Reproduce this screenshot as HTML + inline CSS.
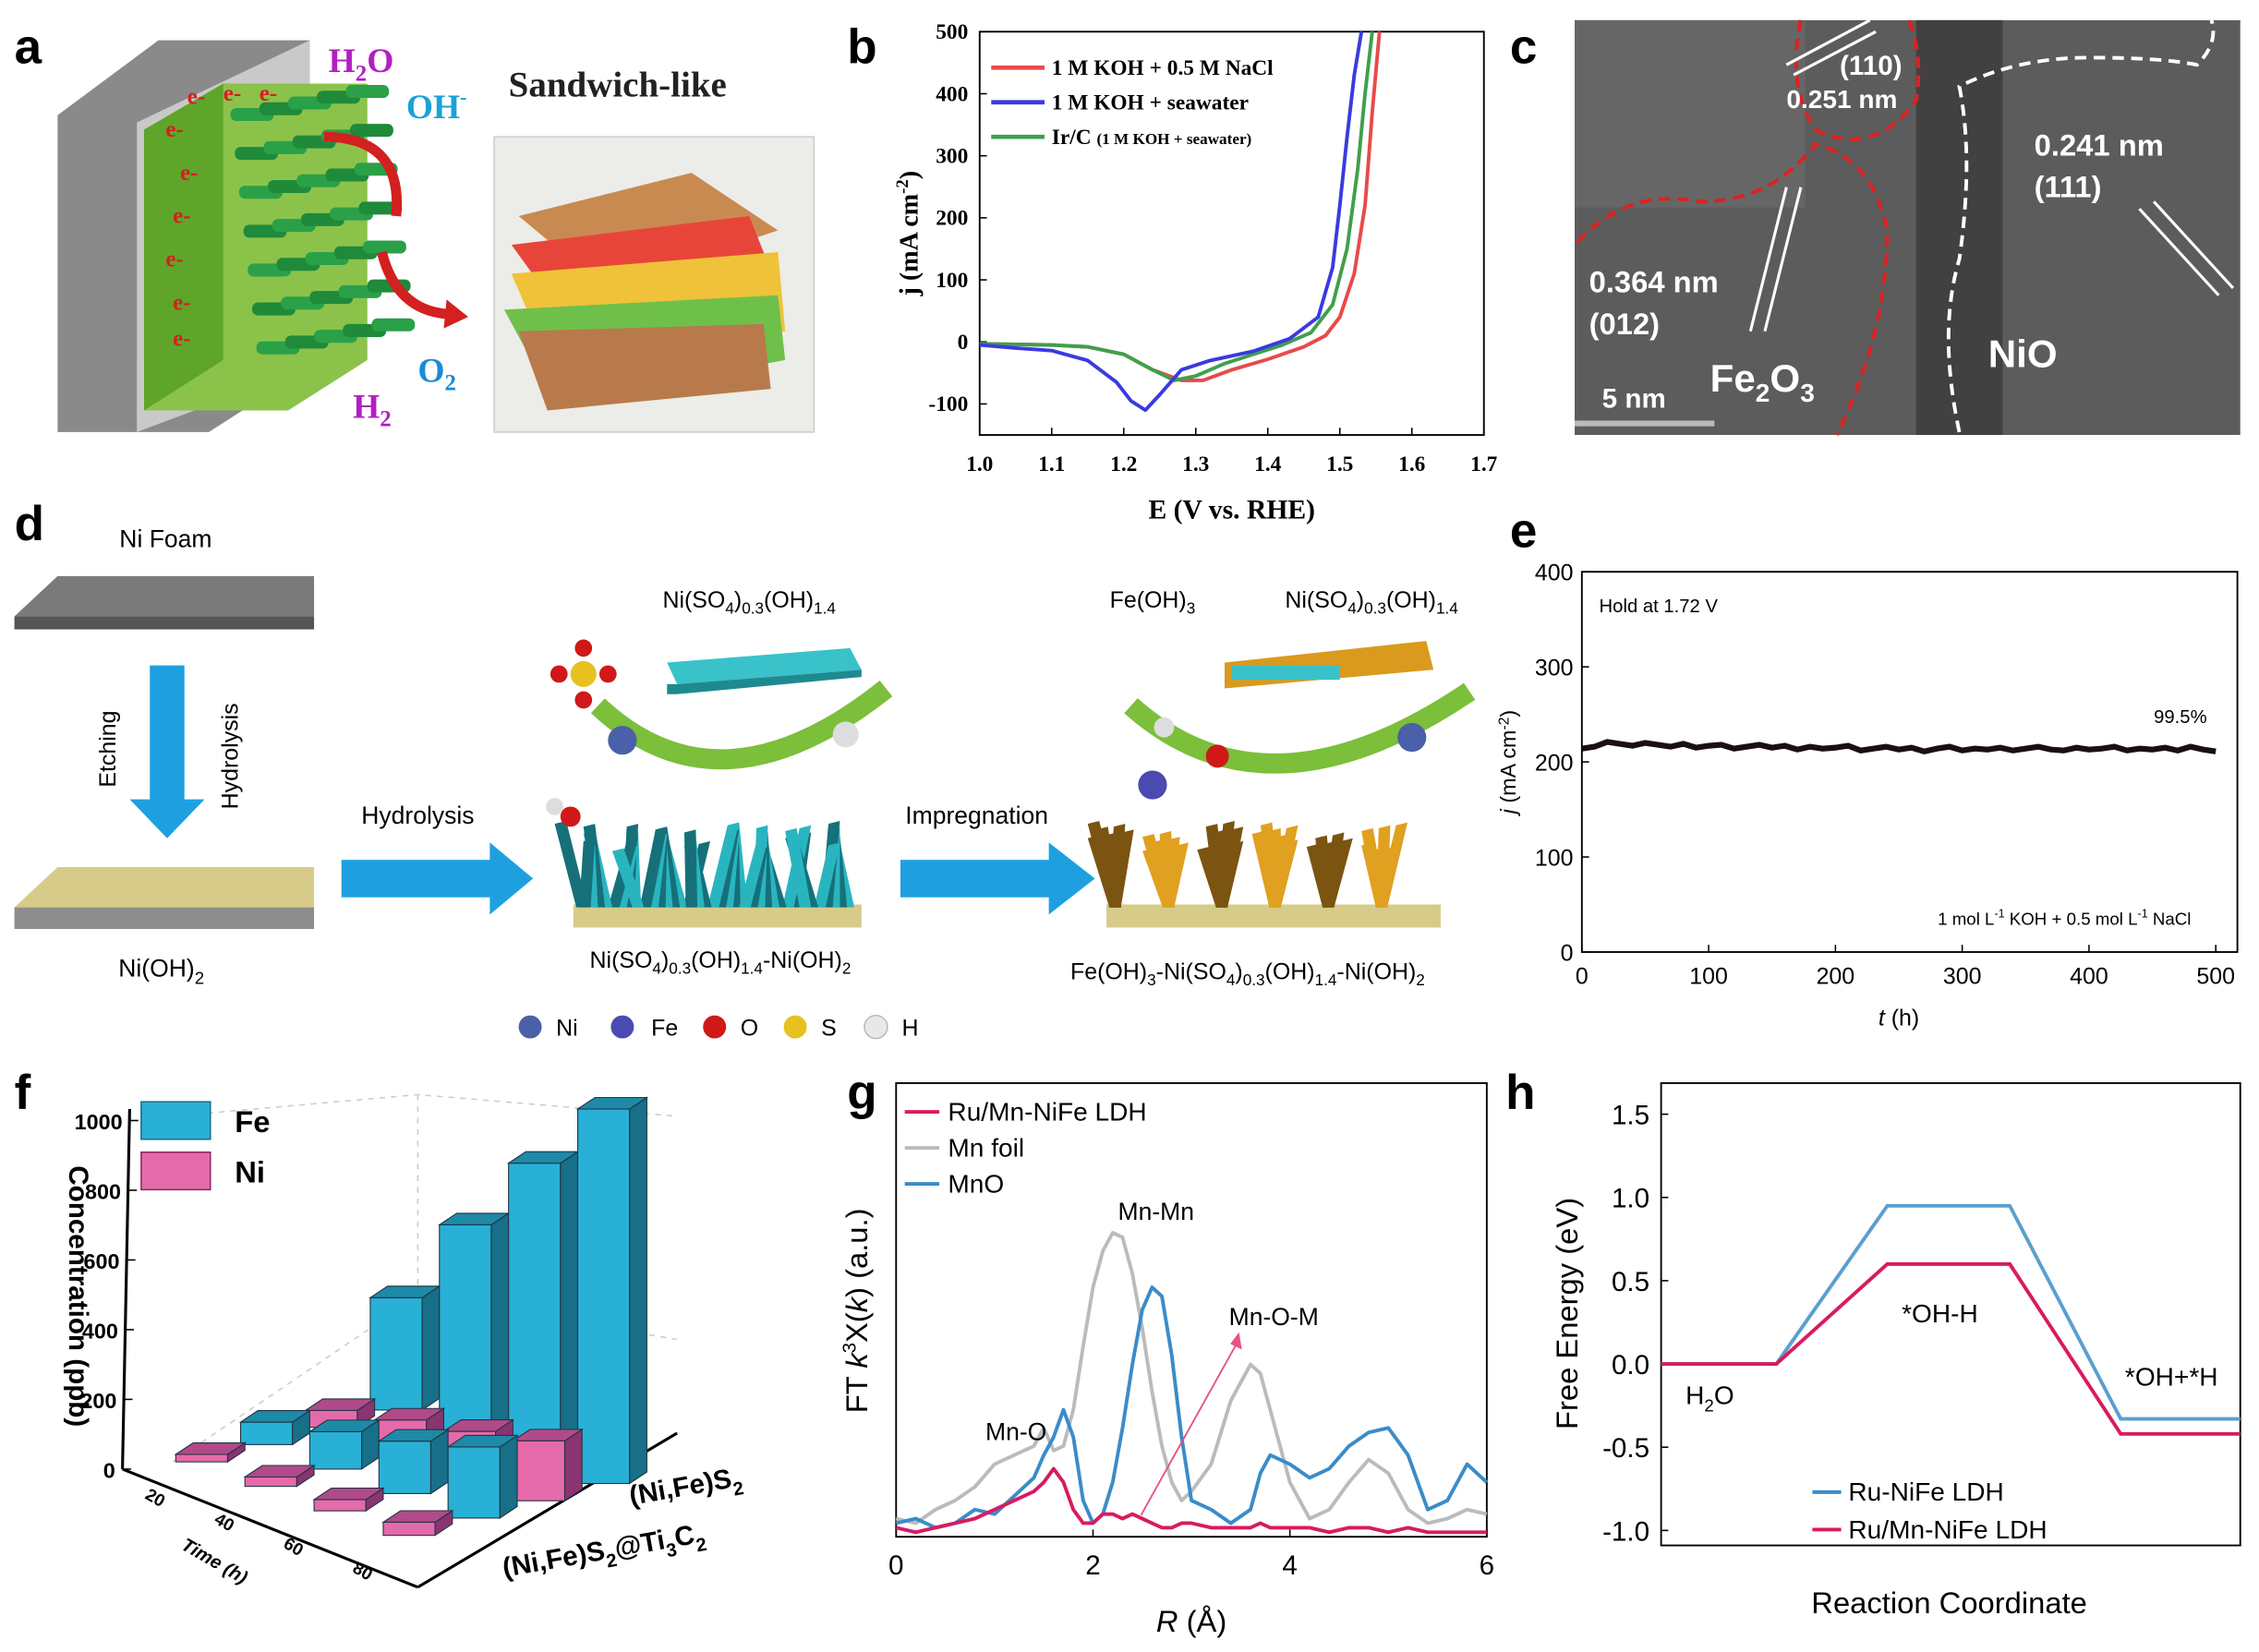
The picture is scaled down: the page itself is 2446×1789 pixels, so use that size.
<!DOCTYPE html>
<html><head><meta charset="utf-8"><style>
html,body{margin:0;padding:0;background:#fff}
svg{display:block}
text{font-family:"Liberation Sans",sans-serif}
.serif{font-family:"Liberation Serif",serif;font-weight:bold}
</style></head><body>
<svg id="fig" width="2446" height="1789" viewBox="0 0 1568 1147" preserveAspectRatio="none" xmlns="http://www.w3.org/2000/svg">
<rect width="1568" height="1147" fill="#fff"/>

<!-- Panel a -->
<g>
<text x="10" y="44" font-size="34" font-weight="bold">a</text>
<polygon points="40,80 110,28 215,28 215,255 145,300 40,300" fill="#8a8a8a"/>
<polygon points="95,85 215,28 215,255 95,300" fill="#d8d8d8" opacity="0.8"/>
<polygon points="100,90 155,58 255,58 255,250 200,285 100,285" fill="#8bc34a"/>
<polygon points="100,90 155,58 155,250 100,285" fill="#5ea52a"/>
<g id="rods"></g>
<path d="M225,95 Q280,95 275,150" stroke="#d32020" stroke-width="7" fill="none"/>
<path d="M265,175 Q275,215 310,218" stroke="#d32020" stroke-width="7" fill="none"/>
<polygon points="310,208 325,220 308,228" fill="#d32020"/>
<text x="228" y="50" font-size="24" class="serif" fill="#b21fc2">H<tspan font-size="16" dy="6">2</tspan><tspan dy="-6">O</tspan></text>
<text x="282" y="82" font-size="24" class="serif" fill="#1aa2d6">OH<tspan font-size="14" dy="-10">-</tspan></text>
<text x="290" y="265" font-size="24" class="serif" fill="#1a8ad6">O<tspan font-size="16" dy="6">2</tspan></text>
<text x="245" y="290" font-size="24" class="serif" fill="#b21fc2">H<tspan font-size="16" dy="6">2</tspan></text>
<text x="353" y="67" font-size="25" class="serif" fill="#222">Sandwich-like</text>
<rect x="343" y="95" width="222" height="205" fill="#ecece8" stroke="#ccc"/>
<polygon points="360,150 480,120 540,160 420,200" fill="#c98a52"/>
<polygon points="355,170 520,150 540,200 395,225" fill="#e8453a"/>
<polygon points="355,190 540,175 545,230 385,260" fill="#f0c23a"/>
<polygon points="350,215 540,205 545,250 385,280" fill="#6fc04a"/>
<polygon points="360,230 530,225 535,270 380,285" fill="#b87a4a"/>
</g>

<!-- Panel b -->
<g>
<text x="588" y="44" font-size="34" font-weight="bold">b</text>
<rect x="680" y="22" width="350" height="280" fill="none" stroke="#000" stroke-width="1.2"/>
<g id="b-axes"></g><g id="b-series"></g>
<line x1="688" y1="47" x2="725" y2="47" stroke="#e84a4a" stroke-width="3"/>
<text x="730" y="52" font-size="15" class="serif">1 M KOH + 0.5 M NaCl</text>
<line x1="688" y1="71" x2="725" y2="71" stroke="#3a3ae0" stroke-width="3"/>
<text x="730" y="76" font-size="15" class="serif">1 M KOH + seawater</text>
<line x1="688" y1="95" x2="725" y2="95" stroke="#3fa04a" stroke-width="3"/>
<text x="730" y="100" font-size="15" class="serif">Ir/C <tspan font-size="11">(1 M KOH + seawater)</tspan></text>
<text x="0" y="0" transform="translate(637,162) rotate(-90)" text-anchor="middle" font-size="18" class="serif">j (mA cm<tspan font-size="12" dy="-7">-2</tspan><tspan dy="7">)</tspan></text>
<text x="855" y="360" text-anchor="middle" font-size="19" class="serif">E (V vs. RHE)</text>
</g>

<!-- Panel c -->
<g>
<text x="1048" y="44" font-size="34" font-weight="bold">c</text>
<rect x="1093" y="14" width="462" height="288" fill="#5c5c5c"/>
<rect x="1330" y="14" width="60" height="288" fill="#2e2e2e" opacity="0.6"/>
<rect x="1093" y="14" width="160" height="130" fill="#707070" opacity="0.5"/>
<path d="M1095,168 Q1130,130 1180,140 Q1230,140 1260,100 Q1300,110 1310,160 Q1310,230 1275,302" stroke="#e02020" stroke-width="2.5" stroke-dasharray="8,5" fill="none"/>
<path d="M1250,14 Q1240,60 1260,90 Q1300,110 1330,70 Q1335,40 1325,14" stroke="#e02020" stroke-width="2.5" stroke-dasharray="8,5" fill="none"/>
<path d="M1360,300 Q1345,230 1360,180 Q1370,110 1360,60 Q1400,40 1450,40 Q1500,40 1525,45 Q1540,30 1535,14" stroke="#fff" stroke-width="2.5" stroke-dasharray="8,5" fill="none"/>
<line x1="1240" y1="45" x2="1298" y2="14" stroke="#fff" stroke-width="2"/><line x1="1245" y1="52" x2="1302" y2="22" stroke="#fff" stroke-width="2"/>
<line x1="1215" y1="230" x2="1240" y2="130" stroke="#fff" stroke-width="2"/><line x1="1225" y1="230" x2="1250" y2="130" stroke="#fff" stroke-width="2"/>
<line x1="1485" y1="145" x2="1540" y2="205" stroke="#fff" stroke-width="2"/><line x1="1495" y1="140" x2="1550" y2="200" stroke="#fff" stroke-width="2"/>
<g fill="#fff" font-weight="bold">
<text x="1277" y="52" font-size="19">(110)</text><text x="1240" y="75" font-size="18">0.251 nm</text>
<text x="1412" y="108" font-size="21">0.241 nm</text><text x="1412" y="137" font-size="21">(111)</text>
<text x="1103" y="203" font-size="21">0.364 nm</text><text x="1103" y="232" font-size="21">(012)</text>
<text x="1187" y="272" font-size="27">Fe<tspan font-size="18" dy="7">2</tspan><tspan dy="-7">O</tspan><tspan font-size="18" dy="7">3</tspan></text>
<text x="1380" y="255" font-size="27">NiO</text>
<text x="1112" y="283" font-size="19">5 nm</text>
</g>
<line x1="1093" y1="294" x2="1190" y2="294" stroke="#bbb" stroke-width="4"/>
</g>

<!-- Panel d -->
<g>
<text x="10" y="375" font-size="34" font-weight="bold">d</text>
<text x="115" y="380" text-anchor="middle" font-size="17">Ni Foam</text>
<polygon points="10,428 40,400 218,400 218,428" fill="#7a7a7a"/><rect x="10" y="428" width="208" height="9" fill="#555"/>
<rect x="104" y="462" width="24" height="95" fill="#1ea0e0"/><polygon points="90,555 142,555 116,582" fill="#1ea0e0"/>
<text transform="translate(80,520) rotate(-90)" text-anchor="middle" font-size="16">Etching</text>
<text transform="translate(165,525) rotate(-90)" text-anchor="middle" font-size="16">Hydrolysis</text>
<polygon points="10,630 40,602 218,602 218,630" fill="#d7cb8a"/><rect x="10" y="630" width="208" height="15" fill="#8d8d8d"/>
<text x="112" y="678" text-anchor="middle" font-size="17">Ni(OH)<tspan font-size="12" dy="5">2</tspan></text>
<rect x="237" y="597" width="105" height="26" fill="#1ea0e0"/><polygon points="340,585 370,610 340,635" fill="#1ea0e0"/>
<text x="290" y="572" text-anchor="middle" font-size="17">Hydrolysis</text>
<rect x="625" y="597" width="105" height="26" fill="#1ea0e0"/><polygon points="728,585 760,610 728,635" fill="#1ea0e0"/>
<text x="678" y="572" text-anchor="middle" font-size="17">Impregnation</text>
<rect x="398" y="628" width="200" height="16" fill="#d7cb8a"/>
<g id="wiresA"></g>
<rect x="768" y="628" width="232" height="16" fill="#d7cb8a"/>
<g id="wiresB"></g>
<path d="M415,490 Q500,570 615,478" stroke="#7bbf3a" stroke-width="14" fill="none"/>
<path d="M785,490 Q880,575 1020,480" stroke="#7bbf3a" stroke-width="14" fill="none"/>
<polygon points="463,460 590,450 598,465 470,475" fill="#39c2c9"/><polygon points="463,475 470,475 598,465 598,470 470,482 463,482" fill="#1e8a90"/>
<polygon points="850,460 990,445 995,465 850,478" fill="#d99a1e"/><rect x="855" y="462" width="75" height="10" fill="#39c2c9"/>
<text x="520" y="422" text-anchor="middle" font-size="16">Ni(SO<tspan font-size="11" dy="4">4</tspan><tspan dy="-4">)</tspan><tspan font-size="11" dy="4">0.3</tspan><tspan dy="-4">(OH)</tspan><tspan font-size="11" dy="4">1.4</tspan></text>
<text x="800" y="422" text-anchor="middle" font-size="16">Fe(OH)<tspan font-size="11" dy="4">3</tspan></text>
<text x="952" y="422" text-anchor="middle" font-size="16">Ni(SO<tspan font-size="11" dy="4">4</tspan><tspan dy="-4">)</tspan><tspan font-size="11" dy="4">0.3</tspan><tspan dy="-4">(OH)</tspan><tspan font-size="11" dy="4">1.4</tspan></text>
<text x="500" y="672" text-anchor="middle" font-size="16">Ni(SO<tspan font-size="11" dy="4">4</tspan><tspan dy="-4">)</tspan><tspan font-size="11" dy="4">0.3</tspan><tspan dy="-4">(OH)</tspan><tspan font-size="11" dy="4">1.4</tspan><tspan dy="-4">-Ni(OH)</tspan><tspan font-size="11" dy="4">2</tspan></text>
<text x="866" y="680" text-anchor="middle" font-size="16">Fe(OH)<tspan font-size="11" dy="4">3</tspan><tspan dy="-4">-Ni(SO</tspan><tspan font-size="11" dy="4">4</tspan><tspan dy="-4">)</tspan><tspan font-size="11" dy="4">0.3</tspan><tspan dy="-4">(OH)</tspan><tspan font-size="11" dy="4">1.4</tspan><tspan dy="-4">-Ni(OH)</tspan><tspan font-size="11" dy="4">2</tspan></text>
<circle cx="405" cy="468" r="9" fill="#e8c020"/><circle cx="388" cy="468" r="6" fill="#d01818"/><circle cx="422" cy="468" r="6" fill="#d01818"/><circle cx="405" cy="450" r="6" fill="#d01818"/><circle cx="405" cy="486" r="6" fill="#d01818"/>
<circle cx="432" cy="514" r="10" fill="#4a60a8"/><circle cx="587" cy="510" r="9" fill="#ddd"/><circle cx="396" cy="567" r="7" fill="#d01818"/><circle cx="385" cy="560" r="6" fill="#ddd"/>
<circle cx="980" cy="512" r="10" fill="#4a60a8"/><circle cx="800" cy="545" r="10" fill="#4a4ab0"/><circle cx="845" cy="525" r="8" fill="#d01818"/><circle cx="808" cy="505" r="7" fill="#ddd"/>
<g font-size="16">
<circle cx="368" cy="713" r="8" fill="#4a60a8"/><text x="386" y="719">Ni</text>
<circle cx="432" cy="713" r="8" fill="#4a4ab0"/><text x="452" y="719">Fe</text>
<circle cx="496" cy="713" r="8" fill="#d01818"/><text x="514" y="719">O</text>
<circle cx="552" cy="713" r="8" fill="#e8c020"/><text x="570" y="719">S</text>
<circle cx="608" cy="713" r="8" fill="#e8e8e8" stroke="#bbb"/><text x="626" y="719">H</text>
</g>
</g>

<!-- Panel e -->
<g>
<text x="1048" y="380" font-size="34" font-weight="bold">e</text>
<rect x="1098" y="397" width="455" height="264" fill="none" stroke="#000" stroke-width="1.2"/>
<g id="e-axes"></g><g id="e-series"></g>
<text x="1110" y="425" font-size="13">Hold at 1.72 V</text>
<text x="1495" y="502" font-size="13">99.5%</text>
<text x="1345" y="642" font-size="12">1 mol L<tspan font-size="8" dy="-5">-1</tspan><tspan dy="5"> KOH + 0.5 mol L</tspan><tspan font-size="8" dy="-5">-1</tspan><tspan dy="5"> NaCl</tspan></text>
<text transform="translate(1052,529) rotate(-90)" text-anchor="middle" font-size="15"><tspan font-style="italic">j</tspan> (mA cm<tspan font-size="10" dy="-5">-2</tspan><tspan dy="5">)</tspan></text>
<text x="1318" y="712" text-anchor="middle" font-size="16"><tspan font-style="italic">t</tspan> (h)</text>
</g>

<!-- Panel f -->
<g>
<text x="10" y="770" font-size="34" font-weight="bold">f</text>
<g stroke="#ccc" stroke-dasharray="4,4" fill="none">
<path d="M120,775 L290,760 L470,775"/><path d="M120,1015 L290,900 L470,930"/>
<line x1="290" y1="760" x2="290" y2="900"/>
</g>
<line x1="90" y1="770" x2="85" y2="1020" stroke="#000" stroke-width="2"/>
<line x1="85" y1="1020" x2="290" y2="1102" stroke="#000" stroke-width="2"/>
<line x1="290" y1="1102" x2="470" y2="995" stroke="#000" stroke-width="2"/>
<g id="f-axes"></g><g id="f-bars"></g>
<rect x="98" y="765" width="48" height="26" fill="#29b0d6" stroke="#1a6d85"/><text x="163" y="786" font-size="21" font-weight="bold">Fe</text>
<rect x="98" y="800" width="48" height="26" fill="#e56aaa" stroke="#8a2a60"/><text x="163" y="821" font-size="21" font-weight="bold">Ni</text>
<text transform="translate(48,900) rotate(90)" text-anchor="middle" font-size="19" font-weight="bold">Concentration (ppb)</text>
<text transform="translate(125,1075) rotate(30)" font-size="13" font-style="italic" font-weight="bold">Time (h)</text>
<text transform="translate(438,1045) rotate(-10)" font-size="19" font-weight="bold">(Ni,Fe)S<tspan font-size="13" dy="6">2</tspan></text>
<text transform="translate(350,1095) rotate(-10)" font-size="19" font-weight="bold">(Ni,Fe)S<tspan font-size="13" dy="6">2</tspan><tspan dy="-6">@Ti</tspan><tspan font-size="13" dy="6">3</tspan><tspan dy="-6">C</tspan><tspan font-size="13" dy="6">2</tspan></text>
</g>

<!-- Panel g -->
<g>
<text x="588" y="770" font-size="34" font-weight="bold">g</text>
<rect x="622" y="752" width="410" height="315" fill="none" stroke="#000" stroke-width="1.2"/>
<g id="g-axes"></g><g id="g-series"></g>
<line x1="628" y1="772" x2="652" y2="772" stroke="#d81b60" stroke-width="2.5"/><text x="658" y="778" font-size="18">Ru/Mn-NiFe LDH</text>
<line x1="628" y1="797" x2="652" y2="797" stroke="#bbb" stroke-width="2.5"/><text x="658" y="803" font-size="18">Mn foil</text>
<line x1="628" y1="822" x2="652" y2="822" stroke="#3a8cc8" stroke-width="2.5"/><text x="658" y="828" font-size="18">MnO</text>
<text x="776" y="847" font-size="17">Mn-Mn</text>
<text x="853" y="920" font-size="17">Mn-O-M</text>
<text x="684" y="1000" font-size="17">Mn-O</text>
<line x1="792" y1="1052" x2="860" y2="930" stroke="#e8508a" stroke-width="1.2"/><polygon points="860,925 862,937 854,933" fill="#e8508a"/>
<text transform="translate(602,910) rotate(-90)" text-anchor="middle" font-size="21">FT <tspan font-style="italic">k</tspan><tspan font-size="13" dy="-8">3</tspan><tspan dy="8">X(</tspan><tspan font-style="italic">k</tspan>) (a.u.)</text>
<text x="827" y="1133" text-anchor="middle" font-size="21"><tspan font-style="italic">R</tspan> (Å)</text>
</g>

<!-- Panel h -->
<g>
<text x="1045" y="770" font-size="34" font-weight="bold">h</text>
<rect x="1153" y="752" width="402" height="321" fill="none" stroke="#000" stroke-width="1.2"/>
<g id="h-axes"></g><g id="h-series"></g>
<text x="1320" y="918" font-size="18">*OH-H</text>
<text x="1170" y="975" font-size="18">H<tspan font-size="12" dy="5">2</tspan><tspan dy="-5">O</tspan></text>
<text x="1475" y="962" font-size="18">*OH+*H</text>
<line x1="1258" y1="1036" x2="1278" y2="1036" stroke="#3a8cc8" stroke-width="2.5"/><text x="1283" y="1042" font-size="18">Ru-NiFe LDH</text>
<line x1="1258" y1="1062" x2="1278" y2="1062" stroke="#d81b60" stroke-width="2.5"/><text x="1283" y="1068" font-size="18">Ru/Mn-NiFe LDH</text>
<text transform="translate(1095,912) rotate(-90)" text-anchor="middle" font-size="21">Free Energy (eV)</text>
<text x="1353" y="1120" text-anchor="middle" font-size="21">Reaction Coordinate</text>
</g>
</svg>
<script>
// ---- Panel b data ----
const bTicksX=[1.0,1.1,1.2,1.3,1.4,1.5,1.6,1.7];
const bTicksY=[-100,0,100,200,300,400,500];
const bRedE=[1.0,1.05,1.1,1.15,1.2,1.24,1.28,1.31,1.35,1.4,1.45,1.48,1.5,1.52,1.535,1.545,1.555];
const bRedJ=[-3,-4,-5,-8,-20,-45,-62,-62,-45,-28,-8,10,40,110,220,370,500];
const bBlueE=[1.0,1.05,1.1,1.15,1.19,1.21,1.23,1.25,1.28,1.32,1.38,1.43,1.47,1.49,1.5,1.51,1.52,1.53];
const bBlueJ=[-5,-10,-14,-30,-65,-95,-110,-85,-45,-30,-15,5,40,120,220,330,430,500];
const bGreenE=[1.0,1.05,1.1,1.15,1.2,1.24,1.27,1.3,1.34,1.38,1.42,1.46,1.49,1.51,1.525,1.535,1.545];
const bGreenJ=[-3,-4,-5,-8,-20,-45,-62,-55,-35,-20,-5,15,60,150,280,400,500];
// ---- Panel e data ----
const eTicksX=[0,100,200,300,400,500];
const eTicksY=[0,100,200,300,400];
const eT=[0,10,20,30,40,50,60,70,80,90,100,110,120,130,140,150,160,170,180,190,200,210,220,230,240,250,260,270,280,290,300,310,320,330,340,350,360,370,380,390,400,410,420,430,440,450,460,470,480,490,500];
const eJ=[214,216,221,219,217,220,218,216,219,215,217,218,214,216,218,215,217,213,216,214,215,217,212,214,216,213,215,211,214,216,212,214,213,215,212,214,216,213,212,215,213,214,216,212,214,213,215,212,216,213,211];
// ---- Panel f data ----
const fTimes=["20","40","60","80"];
const fTicksZ=[0,200,400,600,800,1000];
const fNiTi=[20,25,30,35];
const fFeTi=[60,100,140,190];
const fNiNF=[45,85,120,160];
const fFeNF=[300,560,790,1000];
// ---- Panel g data ----
const gTicksX=[0,2,4,6];
const gR=[0,0.2,0.4,0.6,0.8,1.0,1.2,1.4,1.5,1.6,1.7,1.8,1.9,2.0,2.1,2.2,2.3,2.4,2.5,2.6,2.7,2.8,2.9,3.0,3.2,3.4,3.6,3.7,3.8,4.0,4.2,4.4,4.6,4.8,5.0,5.2,5.4,5.6,5.8,6.0];
const gRed=[0.2,0.1,0.2,0.3,0.4,0.6,0.8,1.0,1.2,1.5,1.2,0.6,0.3,0.3,0.5,0.5,0.4,0.5,0.4,0.3,0.2,0.2,0.3,0.3,0.2,0.2,0.2,0.3,0.2,0.2,0.2,0.1,0.2,0.2,0.1,0.2,0.1,0.1,0.1,0.1];
const gGray=[0.4,0.3,0.6,0.8,1.1,1.6,1.8,2.0,2.4,1.9,2.0,2.8,4.2,5.5,6.3,6.7,6.6,5.8,4.6,3.2,2.0,1.2,0.8,1.0,1.6,3.0,3.8,3.6,2.8,1.2,0.4,0.6,1.2,1.7,1.4,0.6,0.3,0.4,0.6,0.5];
const gBlue=[0.3,0.4,0.2,0.3,0.6,0.5,0.9,1.3,1.8,2.2,2.8,2.2,0.8,0.3,0.5,1.2,2.4,3.8,5.0,5.5,5.3,4.0,2.2,0.8,0.6,0.3,0.6,1.4,1.8,1.6,1.3,1.5,2.0,2.3,2.4,1.8,0.6,0.8,1.6,1.2];
// ---- Panel h data ----
const hTicksY=[-1.0,-0.5,0.0,0.5,1.0,1.5];
const hStates=[0,1,2];
const hBlue=[0,0.95,-0.33];
const hRed=[0,0.6,-0.42];

const NS="http://www.w3.org/2000/svg";
function mk(tag,attrs,parent,txt){const e=document.createElementNS(NS,tag);for(const k in attrs)e.setAttribute(k,attrs[k]);if(txt!==undefined)e.textContent=txt;parent.appendChild(e);return e;}
function $(id){return document.getElementById(id);}

// rods in panel a
(function(){const g=$('rods');for(let r=0;r<7;r++)for(let c=0;c<5;c++){const x=160+c*20+r*3,y=75+r*27-c*4;
const rod=mk('rect',{x:x,y:y,width:30,height:9,rx:4,fill:(c+r)%2?'#1f8a3a':'#2aa048'},g);

}
const es=[[115,95],[125,125],[120,155],[115,185],[120,215],[120,240],[130,72],[155,70],[180,70]];
es.forEach(p=>{const t=mk('text',{x:p[0],y:p[1],'font-size':16,fill:'#d32020',class:'serif'},g,'e-');

});})();

// wires in panel d (decorative)
(function(){function wires(g,x0,w,c1,c2){for(let i=0;i<40;i++){const x=x0+(i*37)%w, tilt=((i*13)%30)-15;
const p=mk('polygon',{points:`${x},630 ${x+8},630 ${x+8+tilt},${570+(i*7)%20} ${x+tilt},${572+(i*7)%20}`,fill:i%2?c1:c2},g);

}}
wires($('wiresA'),400,190,'#29b5c0','#16707a');wires($('wiresB'),770,222,'#e0a020','#7a5410');})();

// Panel b
(function(){const X0=680,X1=1030,Y0=302,Y1=22;const xs=v=>X0+(v-1.0)/0.7*(X1-X0);const ys=v=>Y0-(v+150)/650*(Y0-Y1);
const ax=$('b-axes');
bTicksX.forEach(t=>{mk('line',{x1:xs(t),x2:xs(t),y1:Y0,y2:Y0-5,stroke:'#000'},ax);const l=mk('text',{x:xs(t),y:Y0+25,'text-anchor':'middle','font-size':15,class:'serif'},ax,t.toFixed(1));

});
bTicksY.forEach(t=>{mk('line',{x1:X0,x2:X0+5,y1:ys(t),y2:ys(t),stroke:'#000'},ax);const l=mk('text',{x:X0-8,y:ys(t)+5,'text-anchor':'end','font-size':15,class:'serif'},ax,t);

});
const s=$('b-series');
[[bRedE,bRedJ,'#e84a4a','curve-koh-nacl'],[bGreenE,bGreenJ,'#3fa04a','curve-irc'],[bBlueE,bBlueJ,'#3a3ae0','curve-koh-seawater']].forEach(d=>{
const p=mk('polyline',{points:d[0].map((e,i)=>xs(e)+','+ys(d[1][i])).join(' '),fill:'none',stroke:d[2],'stroke-width':2.5,'stroke-linejoin':'round'},s);

});})();

// Panel e
(function(){const X0=1098,Y0=661,Y1=397;const xs=v=>X0+v/500*440;const ys=v=>Y0-v/400*(Y0-Y1);
const ax=$('e-axes');
eTicksX.forEach(t=>{mk('line',{x1:xs(t),x2:xs(t),y1:Y0,y2:Y0-5,stroke:'#000'},ax);const l=mk('text',{x:xs(t),y:Y0+22,'text-anchor':'middle','font-size':16},ax,t);

});
eTicksY.forEach(t=>{mk('line',{x1:X0,x2:X0+5,y1:ys(t),y2:ys(t),stroke:'#000'},ax);const l=mk('text',{x:X0-6,y:ys(t)+6,'text-anchor':'end','font-size':16},ax,t);

});
const s=$('e-series');
const p=mk('polyline',{points:eT.map((t,i)=>xs(t)+','+ys(eJ[i])).join(' '),fill:'none',stroke:'#1a1010','stroke-width':4},s);

})();

// Panel f
(function(){const ox=140,oy=1015,tdx=48,tdy=17,cdx=45,cdy=-12,hs=0.26,W=36,dX=12,dY=-8;
const ax=$('f-axes');
fTicksZ.forEach(t=>{const y=1020-t*0.242;mk('line',{x1:85+t*0.005,x2:91+t*0.005,y1:y,y2:y,stroke:'#000'},ax);const l=mk('text',{x:80+t*0.005,y:y+6,'text-anchor':'end','font-size':15,'font-weight':'bold'},ax,t);

});
fTimes.forEach((t,i)=>{const l=mk('text',{x:100+i*48,y:1040+i*17,'font-size':12,'font-weight':'bold',transform:`rotate(30 ${100+i*48} ${1040+i*17})`},ax,t);

});
const cats=[[fNiTi,'#e56aaa','#b04a88','#8a3470','bar-ni-ti3c2'],[fFeTi,'#29b0d6','#1d8aa8','#176f88','bar-fe-ti3c2'],[fNiNF,'#e56aaa','#b04a88','#8a3470','bar-ni-nifes2'],[fFeNF,'#29b0d6','#1d8aa8','#176f88','bar-fe-nifes2']];
const g=$('f-bars');
for(let c=3;c>=0;c--){for(let t=0;t<4;t++){const v=cats[c][0][t];const bx=ox+t*tdx+c*cdx-W/2,by=oy+t*tdy+c*cdy;const h=v*hs;
const grp=mk('g',{},g);


mk('rect',{x:bx,y:by-h,width:W,height:h,fill:cats[c][1],stroke:'#234',"stroke-width":0.7},grp);
mk('polygon',{points:`${bx+W},${by-h} ${bx+W+dX},${by-h+dY} ${bx+W+dX},${by+dY} ${bx+W},${by}`,fill:cats[c][3],stroke:'#234',"stroke-width":0.7},grp);
mk('polygon',{points:`${bx},${by-h} ${bx+dX},${by-h+dY} ${bx+W+dX},${by-h+dY} ${bx+W},${by-h}`,fill:cats[c][2],stroke:'#234',"stroke-width":0.7},grp);}}})();

// Panel g
(function(){const X0=622,X1=1032,Y0=1067,Y1=752;const xs=v=>X0+v/6*(X1-X0);const ys=v=>Y0-v/10*(Y0-Y1);
const ax=$('g-axes');
gTicksX.forEach(t=>{mk('line',{x1:xs(t),x2:xs(t),y1:Y0,y2:Y0-5,stroke:'#000'},ax);const l=mk('text',{x:xs(t),y:Y0+26,'text-anchor':'middle','font-size':19},ax,t);

});
const s=$('g-series');
[[gGray,'#bbbbbb','curve-mn-foil'],[gBlue,'#3a8cc8','curve-mno'],[gRed,'#d81b60','curve-ru-mn-nife-ldh']].forEach(d=>{
const p=mk('polyline',{points:gR.map((r,i)=>xs(r)+','+ys(d[0][i])).join(' '),fill:'none',stroke:d[1],'stroke-width':2.5,'stroke-linejoin':'round'},s);

});})();

// Panel h
(function(){const X0=1153,Y0=1073,Y1=752;const ys=v=>947-v/0.5*57.8;const sx=[[1153,1233],[1310,1395],[1472,1555]];
const ax=$('h-axes');
hTicksY.forEach(t=>{mk('line',{x1:X0,x2:X0+5,y1:ys(t),y2:ys(t),stroke:'#000'},ax);const l=mk('text',{x:X0-8,y:ys(t)+7,'text-anchor':'end','font-size':19},ax,t.toFixed(1));

});
const s=$('h-series');
[[hBlue,'#5a9fd0','energy-path-ru-nife'],[hRed,'#d81b60','energy-path-ru-mn-nife']].forEach(d=>{
const pts=[];hStates.forEach(i=>{pts.push(sx[i][0]+','+ys(d[0][i]));pts.push(sx[i][1]+','+ys(d[0][i]));});
const p=mk('polyline',{points:pts.join(' '),fill:'none',stroke:d[1],'stroke-width':2.5},s);

});})();
</script>
</body></html>
